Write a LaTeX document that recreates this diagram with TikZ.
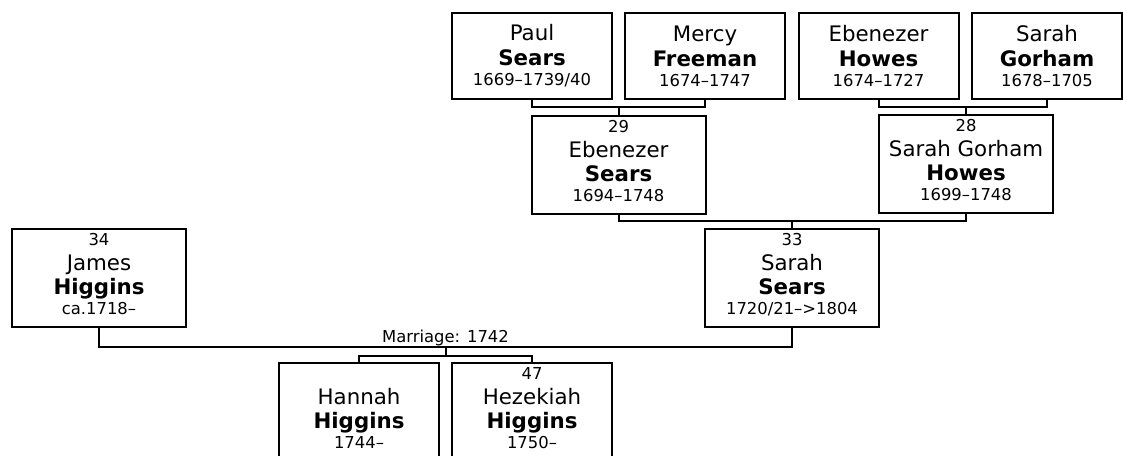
\documentclass[tikz,border=0pt]{standalone}
\usepackage{fontspec}
\setmainfont{DejaVu Sans}

\newcommand{\numfont}{\fontsize{12.3}{14}\selectfont}
\newcommand{\namefont}{\fontsize{16}{18}\selectfont}
\newcommand{\withnum}[4]{{\numfont #1}\\[0.75pt]{\namefont #2}\\{\namefont\bfseries #3}\\[-3pt]{\numfont #4\rule[-6pt]{0pt}{0pt}}}
\newcommand{\nonum}[3]{{\namefont #1}\\[0.75pt]{\namefont\bfseries #2}\\[-3pt]{\numfont #3}}

\tikzstyle{person}=[rectangle,draw,line width=1.5pt,align=center,inner sep=0pt,font=\fontsize{12.3}{18}\selectfont]
\tikzstyle{toprow}=[person,minimum width=120pt,minimum height=64.5pt]
\tikzstyle{midrow}=[person,minimum width=130.5pt,minimum height=73.5pt]
\tikzstyle{kidrow}=[person,minimum width=120pt,minimum height=73.5pt]
\tikzstyle{edge} = [draw,line width=1.5pt,-]

\begin{document}
\begin{tikzpicture}[x=0.75pt, y=-0.75pt]
			\useasboundingbox (0,0) rectangle (1123,455);
			\clip (0,0) rectangle (1123,455);
			% grandparents
			\node [toprow] (paul)    at (532,56)   {\nonum{Paul}{Sears}{1669–1739/40}};
			\node [toprow] (mercy)   at (705,56)   {\nonum{Mercy}{Freeman}{1674–1747}};
			\node [toprow] (ebhowes) at (878.5,56) {\nonum{Ebenezer}{Howes}{1674–1727}};
			\node [toprow, minimum width=112.5pt] (sgorham) at (1047,56) {\nonum{Sarah}{Gorham}{1678–1705}};
			% parents
			\node [midrow] (ebsears) at (618.5,164.5) {\withnum{29}{Ebenezer}{Sears}{1694–1748}};
			\node [midrow] (sghowes) at (966,164)     {\withnum{28}{Sarah Gorham}{Howes}{1699–1748}};
			% couple
			\node [midrow] (james)   at (99,278)  {\withnum{34}{James}{Higgins}{ca.1718–}};
			\node [midrow] (ssears)  at (792,278) {\withnum{33}{Sarah}{Sears}{1720/21–>1804}};
			% children
			\node [kidrow] (hannah)   at (359,412) {\withnum{\phantom{47}}{Hannah}{Higgins}{1744–}};
			\node [kidrow] (hezekiah) at (532,412) {\withnum{47}{Hezekiah}{Higgins}{1750–}};

			\coordinate (pm)   at (618.5,106.5);
			\coordinate (hg)   at (966,106.5);
			\coordinate (es)   at (792,221);
			\coordinate (js)   at (445.5,347);
			\coordinate (kids) at (445.5,356);

			\draw [edge] (paul.south) -- (paul.south |- pm) -- (mercy.south |- pm) -- (mercy.south);
			\draw [edge] (pm) -- (ebsears.north);
			\draw [edge] (ebhowes.south) -- (ebhowes.south |- hg) -- (sgorham.south |- hg) -- (sgorham.south);
			\draw [edge] (hg) -- (hg |- sghowes.north);
			\draw [edge] (ebsears.south) -- (ebsears.south |- es) -- (sghowes.south |- es) -- (sghowes.south);
			\draw [edge] (es) -- (ssears.north);
			\draw [edge] (james.south) -- (james.south |- js) -- (ssears.south |- js) -- (ssears.south);
			\draw [edge] (js) -- (kids);
			\draw [edge] (hannah.north) -- (hannah.north |- kids) -- (hezekiah.north |- kids) -- (hezekiah.north);
			\node [above, inner sep=0.5pt, font=\numfont] (marriage) at (js) {Marriage: 1742};
	\end{tikzpicture}
\end{document}
